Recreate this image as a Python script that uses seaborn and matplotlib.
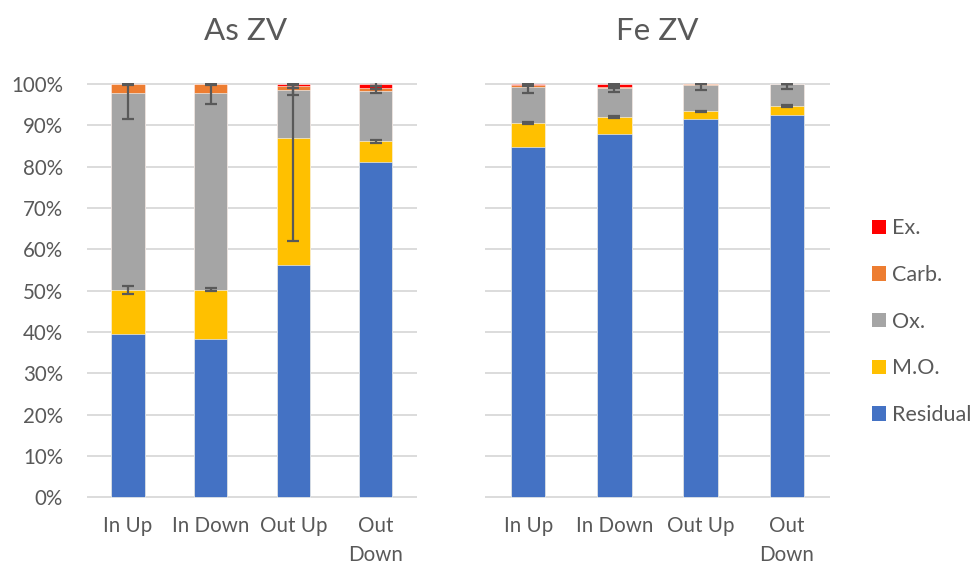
import numpy as np
import pandas as pd
import matplotlib
matplotlib.use("Agg")
import matplotlib.pyplot as plt
import seaborn as sns
from matplotlib.patches import Patch

# categories / series (percent of total)
categories = ["In Up", "In Down", "Out Up", "Out\nDown"]
fractions = ["Residual", "M.O.", "Ox.", "Carb.", "Ex."]
colors = ["#4472C4", "#FFC000", "#A5A5A5", "#ED7D31", "#FF0000"]

as_residual = [39.6, 38.2, 56.3, 81.0]
as_mo = [10.5, 12.0, 30.6, 5.1]
as_ox = [47.8, 47.6, 11.7, 12.2]
as_carb = [2.1, 2.2, 0.8, 0.8]
as_ex = [0.0, 0.0, 0.6, 0.9]
as_mo_err = [1.0, 0.4, 24.8, 0.3]
as_ox_err = [6.4, 2.6, 1.3, 0.4]
as_carb_err = [0.3, 0.3, 0.3, 0.3]
as_ex_err = [0.1, 0.1, 0.3, 0.4]

fe_residual = [84.8, 87.8, 91.4, 92.6]
fe_mo = [5.7, 4.2, 2.0, 2.1]
fe_ox = [8.8, 7.0, 6.4, 5.2]
fe_carb = [0.4, 0.2, 0.2, 0.1]
fe_ex = [0.3, 0.8, 0.0, 0.0]
fe_mo_err = [0.3, 0.3, 0.1, 0.2]
fe_ox_err = [1.5, 0.9, 1.2, 1.1]
fe_carb_err = [0.2, 0.2, 0.1, 0.1]
fe_ex_err = [0.1, 0.2, 0.1, 0.1]

panels = [
    ("As ZV", [as_residual, as_mo, as_ox, as_carb, as_ex],
     [None, as_mo_err, as_ox_err, as_carb_err, as_ex_err]),
    ("Fe ZV", [fe_residual, fe_mo, fe_ox, fe_carb, fe_ex],
     [None, fe_mo_err, fe_ox_err, fe_carb_err, fe_ex_err]),
]

sns.set_style("white")
plt.rcParams["font.family"] = ["Lato", "DejaVu Sans"]
txt = "#595959"

fig = plt.figure(figsize=(9.74, 5.66), dpi=100)
axes = [fig.add_axes([0.089, 0.1201, 0.3394, 0.7327]),
        fig.add_axes([0.498, 0.1201, 0.3542, 0.7327])]
title_x = [246 / 974, 657 / 974]

for ax, (title, series, errs), tx in zip(axes, panels, title_x):
    df = pd.DataFrame(dict(zip(fractions, series)), index=categories)
    cum = df.cumsum(axis=1)
    # draw stacked bars top-down so lower segments cover upper ones
    for name, col in reversed(list(zip(fractions, colors))):
        sns.barplot(x=categories, y=cum[name].values, color=col, width=0.4,
                    saturation=1, ax=ax, edgecolor="white", linewidth=0.4,
                    zorder=2)
    for name, err in zip(fractions, errs):
        if err is None:
            continue
        ax.errorbar(np.arange(len(categories)), cum[name].values, yerr=err,
                    fmt="none", ecolor=txt, elinewidth=1.6, capsize=4.3,
                    capthick=1.6, zorder=5)
    ax.set_ylim(-0.15, 100.15)
    ax.set_xlim(-0.5, 3.5)
    ax.set_yticks(range(0, 101, 10))
    ax.set_yticklabels([f"{v}%" for v in range(0, 101, 10)])
    ax.yaxis.grid(True, color="#D9D9D9", lw=1.3)
    ax.set_axisbelow(True)
    sns.despine(ax=ax, left=True, bottom=True)
    ax.tick_params(axis="both", length=0, labelsize=14.8, labelcolor=txt)
    ax.tick_params(axis="y", pad=17)
    ax.tick_params(axis="x", pad=13)
    for lab in ax.get_xticklabels():
        lab.set_linespacing(1.55)
    fig.text(tx, 1 - 40 / 566, title, ha="center", va="baseline",
             fontsize=22.6, color=txt)

axes[1].set_yticklabels([])

handles = [Patch(facecolor=c, edgecolor="none") for c in colors]
fig.legend(handles[::-1], fractions[::-1], loc="center left",
           bbox_to_anchor=(872 / 974, 1 - 321.7 / 566), frameon=False,
           fontsize=15.5, labelcolor=txt, handlelength=0.65, handleheight=0.65,
           handletextpad=0.3, labelspacing=1.24, borderpad=0,
           borderaxespad=0)

fig.savefig("out.png", dpi=100)
